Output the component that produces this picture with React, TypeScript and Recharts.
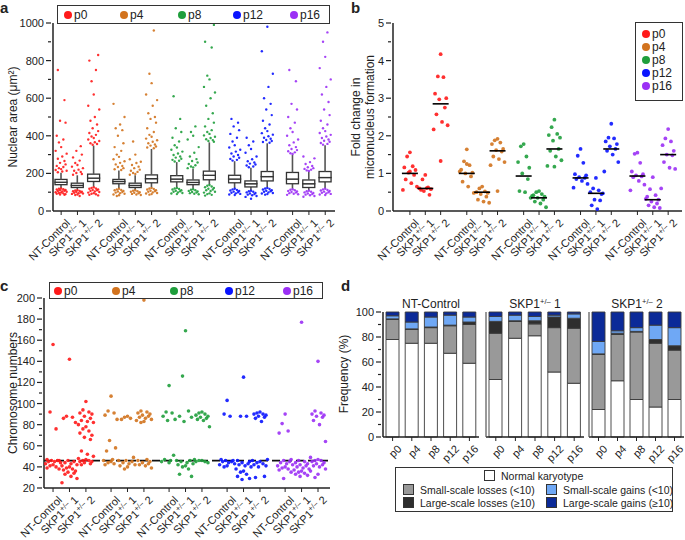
import React from "react";
import { ComposedChart, BarChart, Scatter, Bar, XAxis, YAxis, ReferenceLine } from "recharts";

const FONT = '"Liberation Sans", Arial, Helvetica, sans-serif';
const INK = "#222";

// shared
const passages = ["p0", "p4", "p8", "p12", "p16"];
const passageColors = ["#ff1a1a", "#d2731e", "#1f9e3c", "#0a14ff", "#9b30f5"];

// panel a: nuclear area, box stats per category (p0 NT, p0 S1, p0 S2, p4 NT, ...)
const areaTicks = [0, 100, 200, 300, 400, 500, 600, 700, 800, 900, 1000];
const areaMajors = [0, 200, 400, 600, 800, 1000];
const areaMedian = [153, 136, 175, 157, 136, 172, 170, 152, 190, 170, 145, 183, 170, 145, 178];
const areaQ1 = [140, 125, 157, 145, 125, 150, 155, 140, 166, 150, 128, 160, 145, 125, 155];
const areaQ3 = [168, 148, 196, 168, 148, 192, 188, 165, 212, 190, 160, 210, 205, 165, 210];
const areaLow = [122, 113, 128, 120, 112, 125, 125, 118, 140, 120, 110, 125, 118, 110, 120];
const areaHigh = [203, 190, 348, 215, 190, 330, 260, 225, 365, 265, 230, 360, 300, 210, 350];
const areaLowOut = [
  [120, 118, 116, 114, 112, 110, 108, 106, 104, 102, 100, 98, 96, 94, 92, 90, 88, 86],
  [111, 109, 107, 105, 103, 101, 99, 97, 95, 93, 91, 88, 85, 80],
  [126, 123, 120, 118, 115, 112, 110, 107, 104, 101, 98, 95, 92, 89, 86, 83],
  [118, 115, 112, 110, 107, 104, 101, 98, 95, 92, 88, 84, 80],
  [110, 108, 105, 102, 100, 97, 94, 91, 88, 85],
  [123, 120, 117, 114, 111, 108, 105, 102, 99, 96, 93, 90, 87],
  [123, 120, 117, 114, 111, 108, 105, 102, 99, 96, 93, 90],
  [116, 113, 110, 107, 104, 101, 98, 95, 92, 89],
  [138, 134, 130, 126, 122, 118, 114, 110, 106, 102, 98, 94, 90, 86, 82],
  [118, 115, 112, 109, 106, 103, 100, 97, 94, 91, 88, 85],
  [108, 105, 102, 99, 96, 93, 90, 87, 84, 80, 75, 65],
  [123, 120, 117, 114, 111, 108, 105, 102, 99, 96, 93, 90, 87],
  [116, 113, 110, 107, 104, 101, 98, 95, 92, 89, 86],
  [108, 105, 102, 99, 96, 93, 90, 87, 84, 80, 76],
  [118, 115, 112, 109, 106, 103, 100, 97, 94, 91, 88, 85],
];
const areaHighOut = [
  [206, 210, 214, 218, 223, 228, 234, 240, 248, 256, 266, 278, 290, 305, 320, 340, 365, 380, 400, 470, 480, 590, 750],
  [193, 197, 202, 208, 214, 220, 228, 236, 245, 255, 268, 285, 300, 320, 345],
  [352, 356, 360, 366, 372, 380, 388, 396, 405, 415, 425, 440, 460, 480, 500, 540, 560, 620, 690, 750, 800, 830],
  [218, 222, 228, 234, 240, 248, 256, 265, 275, 288, 300, 320, 340, 360, 400, 430, 440, 460, 500, 570],
  [193, 197, 202, 208, 214, 220, 228, 236, 245, 255, 262, 275, 300, 370],
  [334, 338, 343, 348, 354, 360, 368, 376, 385, 395, 405, 420, 440, 470, 490, 500, 520, 560, 590, 620, 680, 730, 960],
  [263, 267, 272, 278, 284, 290, 298, 306, 316, 326, 338, 350, 370, 390, 420, 440, 490, 610],
  [228, 232, 237, 243, 250, 258, 266, 276, 290, 310, 340, 380, 400, 420, 450],
  [368, 372, 377, 382, 388, 395, 402, 410, 420, 430, 450, 470, 490, 520, 560, 600, 630, 660, 700, 720, 870, 900, 990],
  [268, 272, 277, 283, 290, 298, 306, 316, 326, 338, 350, 370, 390, 410, 430, 450, 470, 490],
  [233, 237, 242, 247, 252, 258, 265, 275, 290, 310, 330, 350, 370, 390],
  [363, 367, 372, 378, 384, 390, 398, 406, 414, 425, 440, 460, 480, 510, 540, 570, 600, 660, 730, 850, 980],
  [303, 307, 312, 318, 324, 330, 340, 350, 365, 380, 400, 420, 440, 470, 500, 540, 570, 690, 750],
  [213, 216, 220, 224, 228, 233, 240, 250, 260, 280, 290],
  [353, 357, 362, 368, 374, 380, 388, 396, 405, 415, 425, 440, 460, 480, 510, 540, 580, 620, 660, 700, 760, 820, 900, 950],
];

// panel b: micronucleus fold change
const mnTicks = [0, 0.5, 1, 1.5, 2, 2.5, 3, 3.5, 4, 4.5, 5];
const mnMajors = [0, 1, 2, 3, 4, 5];
const mnValues = [
  [1.56, 1.45, 1.19, 1.16, 1.09, 1.02, 0.96, 0.84, 0.74, 0.65, 0.56, 1.05],
  [0.96, 0.84, 0.63, 0.6, 0.58, 0.53, 0.43, 0.56, 0.61],
  [4.17, 3.58, 3.56, 3.12, 3.0, 2.97, 2.75, 2.57, 2.37, 2.28, 2.17, 1.33],
  [1.64, 1.32, 1.22, 1.1, 1.02, 1.0, 0.92, 0.78, 0.65, 0.48, 1.05, 1.25],
  [0.65, 0.6, 0.52, 0.5, 0.48, 0.45, 0.38, 0.3, 0.25, 0.22],
  [1.92, 1.88, 1.82, 1.78, 1.65, 1.62, 1.58, 1.45, 1.38, 1.3, 1.22, 0.53],
  [1.78, 1.72, 1.45, 1.3, 1.15, 1.0, 0.85, 0.53, 0.5, 0.35],
  [0.53, 0.5, 0.45, 0.42, 0.38, 0.35, 0.3, 0.25, 0.2, 0.1, 0.4],
  [2.43, 2.23, 2.05, 2.02, 1.95, 1.87, 1.65, 1.6, 1.45, 1.35, 1.2, 1.18],
  [1.65, 1.47, 1.28, 0.98, 0.95, 0.9, 0.88, 0.85, 0.8, 0.72, 0.62],
  [0.88, 0.6, 0.55, 0.5, 0.45, 0.3, 0.28, 0.15, 0.05, 0.47],
  [2.32, 1.95, 1.93, 1.85, 1.78, 1.72, 1.65, 1.6, 1.5, 1.3, 1.05],
  [1.55, 1.52, 1.28, 1.05, 0.98, 0.95, 0.92, 0.9, 0.8, 0.7, 0.55],
  [0.9, 0.58, 0.42, 0.38, 0.3, 0.25, 0.2, 0.15, 0.1, 0.08, 0.32],
  [2.18, 1.93, 1.85, 1.75, 1.6, 1.5, 1.48, 1.3, 1.15, 1.12, 0.6],
];
const mnMedians = [1.0, 0.6, 2.85, 1.0, 0.5, 1.6, 0.93, 0.35, 1.65, 0.88, 0.47, 1.65, 0.93, 0.3, 1.5];

// panel c: chromosome numbers
const chrTicks = [20, 30, 40, 50, 60, 70, 80, 90, 100, 110, 120, 130, 140, 150, 160, 170, 180, 190, 200];
const chrMajors = [20, 40, 60, 80, 100, 120, 140, 160, 180, 200];
const diploid = 46;
const chrValues = [
  [156, 92, 76, 47, 46, 46, 46, 45, 45, 44, 43, 42, 41, 40, 39, 38],
  [142, 88, 87, 86, 82, 46, 45, 44, 43, 42, 41, 40, 39, 38, 37, 36, 35, 34, 33, 31, 29, 25],
  [102, 94, 92, 91, 90, 88, 86, 84, 83, 82, 80, 78, 76, 74, 72, 70, 68, 66, 55, 52, 50, 48, 47, 46, 46, 45, 45, 44, 43, 42],
  [107, 93, 91, 89, 85, 65, 58, 55, 47, 46, 46, 45, 44, 43, 42],
  [88, 87, 86, 85, 49, 46, 45, 44, 43, 42, 41, 40, 38],
  [198, 93, 92, 91, 90, 89, 88, 87, 86, 85, 84, 83, 82, 47, 46, 45, 44, 43, 42, 41, 39],
  [117, 92, 91, 88, 85, 84, 51, 47, 46, 46, 45, 44],
  [169, 126, 93, 88, 87, 83, 46, 45, 44, 43, 42, 41, 40, 38, 33, 31],
  [92, 91, 90, 89, 88, 87, 86, 85, 84, 78, 47, 46, 46, 45, 45, 44],
  [103, 90, 88, 47, 46, 46, 45, 45, 44, 43, 42, 41, 40],
  [125, 88, 88, 46, 45, 44, 43, 42, 41, 40, 38, 36, 35, 33, 31, 29, 28],
  [92, 91, 90, 90, 89, 88, 87, 86, 83, 47, 46, 45, 44, 43, 42, 41, 40, 31, 30],
  [90, 81, 74, 72, 47, 46, 45, 44, 43, 42, 41, 40, 39, 38, 37, 35, 29],
  [177, 46, 45, 44, 43, 42, 41, 40, 39, 38, 37, 36, 35, 34, 33, 32, 31],
  [140, 93, 91, 90, 89, 88, 87, 84, 80, 64, 49, 47, 46, 46, 45, 44, 43, 42, 41, 40, 38, 36, 33, 30],
];

// panel d: karyotype frequencies (%), per cell line, per passage
const dTicks = [0, 10, 20, 30, 40, 50, 60, 70, 80, 90, 100];
const dMajors = [0, 20, 40, 60, 80, 100];
const dLines = ["NT-Control", "SKP1+/– 1", "SKP1+/– 2"];
const normalK = [[78, 75, 75, 67, 59], [46, 79, 81, 52, 43], [22, 45, 30, 24, 30]];
const smallLoss = [[16, 11, 12.5, 22, 31], [37, 13.5, 9.5, 35.5, 44], [44, 37, 54, 51, 39.5]];
const largeLoss = [[0.5, 0.5, 0.5, 0.5, 2], [9.5, 0.5, 2.5, 8.5, 8], [0.5, 1, 0.5, 3, 3.5]];
const smallGain = [[2.5, 5.5, 8, 8, 4], [4, 4.5, 3.5, 1.5, 3.5], [10, 2, 3, 11.5, 14.5]];
const largeGain = [[3, 8, 4, 2.5, 4], [3.5, 2.5, 3.5, 2.5, 1.5], [23.5, 15, 12.5, 10.5, 12.5]];
const kSeries = [
  { key: "normal", name: "Normal karyotype", color: "#ffffff" },
  { key: "smallLoss", name: "Small-scale losses (<10)", color: "#999999" },
  { key: "largeLoss", name: "Large-scale losses (\u226510)", color: "#2e2e2e" },
  { key: "smallGain", name: "Small-scale gains (<10)", color: "#6fa8f5" },
  { key: "largeGain", name: "Large-scale gains (\u226510)", color: "#0b2a98" },
];

const catX = (k: number, gap: number) => Math.floor(k / 3) * gap + (k % 3);
const SPREAD = [0, -1, 1, -2, 2, -0.5, 1.5, -1.5, 0.5, 2.5, -2.5];

const jitterDot = (color: string, r: number, step: number) => (props: any) => {
  const { cx, cy, payload } = props;
  if (cx == null || cy == null) return <g />;
  const dx = SPREAD[payload.j % SPREAD.length] * step;
  return <circle cx={cx + dx} cy={cy} r={r} fill={color} fillOpacity={0.9} />;
};

const yTick = (majors: number[]) => (props: any) => {
  const { x, y, payload } = props;
  const major = majors.includes(payload.value);
  return (
    <g>
      <line x1={x - (major ? 5 : 3)} x2={x} y1={y} y2={y} stroke={INK} strokeWidth={1.2} />
      {major && (
        <text x={x - 7} y={y} dy={4} textAnchor="end" fontSize={11} fill={INK} fontFamily={FONT}>
          {payload.value}
        </text>
      )}
    </g>
  );
};

const LineLabel = ({ name }: { name: string }) => {
  if (!name.startsWith("SKP1")) return <>{name}</>;
  const n = name.slice(-1);
  return (
    <>
      SKP1
      <tspan dy={-4} fontSize={7.5}>+/–</tspan>
      <tspan dy={4}>{"\u00a0" + n}</tspan>
    </>
  );
};

const catTick = (names: string[]) => (props: any) => {
  const { x, y, index } = props;
  return (
    <g transform={`translate(${x + 4},${y + 1}) rotate(-45)`}>
      <text x={0} y={0} dy={8} textAnchor="end" fontSize={11} fill={INK} fontFamily={FONT}>
        <LineLabel name={names[index % names.length]} />
      </text>
    </g>
  );
};

const catNames = ["NT-Control", "SKP1+/– 1", "SKP1+/– 2"];

const Empty = () => <g />;
const Whisker = (p: any) => (
  <line x1={p.x + p.width / 2} x2={p.x + p.width / 2} y1={p.y} y2={p.y + p.height} stroke="#555" strokeWidth={1.6} />
);
const BoxPart = (p: any) => (
  <rect x={p.x} y={p.y} width={p.width} height={p.height} fill="#fff" stroke="#333" strokeWidth={1.3} />
);
const MedianLine = (p: any) =>
  p.cx == null ? <g /> : <line x1={p.cx - 8} x2={p.cx + 8} y1={p.cy} y2={p.cy} stroke="#000" strokeWidth={1.6} />;

const axisStyle = { stroke: INK, strokeWidth: 1.5 };

const Abs = ({ left, top, children, style }: any) => (
  <div style={{ position: "absolute", left, top, ...style }}>{children}</div>
);

const Letter = ({ left, top, c }: any) => (
  <Abs left={left} top={top} style={{ fontWeight: "bold", fontSize: 15, lineHeight: "15px" }}>{c}</Abs>
);

const VTitle = ({ cx, cy, children }: any) => (
  <div
    style={{
      position: "absolute",
      left: cx,
      top: cy,
      transform: "translate(-50%,-50%) rotate(-90deg)",
      whiteSpace: "nowrap",
      fontSize: 12,
      lineHeight: "14px",
      textAlign: "center",
    }}
  >
    {children}
  </div>
);

const Dot = ({ color }: any) => (
  <span style={{ display: "inline-block", width: 8, height: 8, borderRadius: 4, background: color, marginRight: 2 }} />
);

const HLegend = ({ left, top, width, height, starts }: any) => (
  <Abs left={left} top={top} style={{ width, height, border: "1px solid #333", boxSizing: "border-box", fontSize: 12 }}>
    {passages.map((p, g) => (
      <span
        key={p}
        style={{ position: "absolute", left: starts[g], top: 0, height: height - 2, display: "flex", alignItems: "center" }}
      >
        <Dot color={passageColors[g]} />
        {p}
      </span>
    ))}
  </Abs>
);

function PanelA() {
  const pos = areaMedian.map((_, k) => catX(k, 3.55));
  const rows = areaMedian.map((m, k) => ({
    x: pos[k],
    base: areaLow[k],
    wLow: areaQ1[k] - areaLow[k],
    boxLow: m - areaQ1[k],
    boxHigh: areaQ3[k] - m,
    wHigh: areaHigh[k] - areaQ3[k],
  }));
  const points = passages.map((_, g) => {
    const pts: any[] = [];
    for (let i = 0; i < 3; i++) {
      const k = g * 3 + i;
      [...areaLowOut[k], ...areaHighOut[k]].forEach((v, j) => pts.push({ x: pos[k], y: v, j }));
    }
    return pts;
  });
  return (
    <Abs left={0} top={0}>
      <ComposedChart width={340} height={270} data={rows} margin={{ top: 23, right: 5, bottom: 0, left: 0 }}>
        <XAxis
          type="number"
          dataKey="x"
          domain={[-0.5, 16.8]}
          allowDataOverflow
          ticks={pos}
          interval={0}
          height={59}
          tickSize={4}
          axisLine={axisStyle}
          tickLine={{ stroke: INK }}
          tick={catTick(catNames)}
        />
        <YAxis
          type="number"
          dataKey="y"
          domain={[0, 1000]}
          allowDataOverflow
          ticks={areaTicks}
          interval={0}
          width={53}
          tickSize={0}
          tickLine={false}
          axisLine={axisStyle}
          tick={yTick(areaMajors)}
        />
        {passages.map((p, g) => (
          <Scatter key={p} data={points[g]} isAnimationActive={false} shape={jitterDot(passageColors[g], 1.2, 2.2)} />
        ))}
        <Bar dataKey="base" stackId="box" barSize={12} shape={Empty} isAnimationActive={false} />
        <Bar dataKey="wLow" stackId="box" barSize={12} shape={Whisker} isAnimationActive={false} />
        <Bar dataKey="boxLow" stackId="box" barSize={12} shape={BoxPart} isAnimationActive={false} />
        <Bar dataKey="boxHigh" stackId="box" barSize={12} shape={BoxPart} isAnimationActive={false} />
        <Bar dataKey="wHigh" stackId="box" barSize={12} shape={Whisker} isAnimationActive={false} />
      </ComposedChart>
    </Abs>
  );
}

function PanelB() {
  const pos = mnMedians.map((_, k) => catX(k, 3.7));
  const points = passages.map((_, g) => {
    const pts: any[] = [];
    for (let i = 0; i < 3; i++) {
      const k = g * 3 + i;
      mnValues[k].forEach((v, j) => pts.push({ x: pos[k], y: v, j }));
    }
    return pts;
  });
  const medians = mnMedians.map((m, k) => ({ x: pos[k], y: m }));
  return (
    <Abs left={340} top={0}>
      <ComposedChart width={345} height={270} margin={{ top: 23, right: 3, bottom: 0, left: 0 }}>
        <XAxis
          type="number"
          dataKey="x"
          domain={[-1.1, 17.7]}
          allowDataOverflow
          ticks={pos}
          interval={0}
          height={59}
          tickSize={4}
          axisLine={axisStyle}
          tickLine={{ stroke: INK }}
          tick={catTick(catNames)}
        />
        <YAxis
          type="number"
          dataKey="y"
          domain={[0, 5]}
          allowDataOverflow
          ticks={mnTicks}
          interval={0}
          width={53}
          tickSize={0}
          tickLine={false}
          axisLine={axisStyle}
          tick={yTick(mnMajors)}
        />
        {passages.map((p, g) => (
          <Scatter key={p} data={points[g]} isAnimationActive={false} shape={jitterDot(passageColors[g], 1.9, 2.8)} />
        ))}
        <Scatter data={medians} isAnimationActive={false} shape={MedianLine} />
      </ComposedChart>
    </Abs>
  );
}

function PanelC() {
  const pos = chrValues.map((_, k) => catX(k, 3.53));
  const points = passages.map((_, g) => {
    const pts: any[] = [];
    for (let i = 0; i < 3; i++) {
      const k = g * 3 + i;
      chrValues[k].forEach((v, j) => pts.push({ x: pos[k], y: v, j }));
    }
    return pts;
  });
  return (
    <Abs left={0} top={270}>
      <ComposedChart width={340} height={270} margin={{ top: 28, right: 10, bottom: 0, left: 0 }}>
        <XAxis
          type="number"
          dataKey="x"
          domain={[-0.55, 16.85]}
          allowDataOverflow
          ticks={pos}
          interval={0}
          height={52}
          tickSize={4}
          axisLine={axisStyle}
          tickLine={{ stroke: INK }}
          tick={catTick(catNames)}
        />
        <YAxis
          type="number"
          dataKey="y"
          domain={[20, 200]}
          allowDataOverflow
          ticks={chrTicks}
          interval={0}
          width={44}
          tickSize={0}
          tickLine={false}
          axisLine={axisStyle}
          tick={yTick(chrMajors)}
        />
        {passages.map((p, g) => (
          <Scatter key={p} data={points[g]} isAnimationActive={false} shape={jitterDot(passageColors[g], 1.8, 3)} />
        ))}
        <ReferenceLine y={diploid} stroke="#111" strokeWidth={1.8} strokeDasharray="8 4" />
      </ComposedChart>
    </Abs>
  );
}

const passageTick = (props: any) => {
  const { x, y, payload } = props;
  return (
    <g transform={`translate(${x + 4},${y + 1}) rotate(-45)`}>
      <text x={0} y={0} dy={8} textAnchor="end" fontSize={11} fill={INK} fontFamily={FONT}>
        {payload.value}
      </text>
    </g>
  );
};

function KaryoPanel({ l, left, width, yWidth, showY }: any) {
  const rows = passages.map((p, i) => ({
    p,
    normal: normalK[l][i],
    smallLoss: smallLoss[l][i],
    largeLoss: largeLoss[l][i],
    smallGain: smallGain[l][i],
    largeGain: largeGain[l][i],
  }));
  return (
    <Abs left={left} top={300}>
      <BarChart width={width} height={165} data={rows} margin={{ top: 12, right: 1, bottom: 0, left: 0 }}>
        <XAxis
          dataKey="p"
          interval={0}
          height={28}
          tickSize={4}
          axisLine={axisStyle}
          tickLine={{ stroke: INK }}
          tick={passageTick}
        />
        {showY ? (
          <YAxis
            type="number"
            domain={[0, 100]}
            ticks={dTicks}
            interval={0}
            width={yWidth}
            tickSize={0}
            tickLine={false}
            axisLine={axisStyle}
            tick={yTick(dMajors)}
          />
        ) : (
          <YAxis type="number" domain={[0, 100]} width={yWidth} tick={false} tickLine={false} axisLine={{ stroke: "#555", strokeWidth: 1.2 }} />
        )}
        {kSeries.map((s) => (
          <Bar
            key={s.key}
            dataKey={s.key}
            stackId="k"
            barSize={13}
            fill={s.color}
            stroke="#3a3a3a"
            strokeWidth={0.9}
            isAnimationActive={false}
          />
        ))}
      </BarChart>
    </Abs>
  );
}

const Swatch = ({ color }: any) => (
  <span
    style={{
      display: "inline-block",
      width: 9,
      height: 9,
      background: color,
      border: "1px solid #333",
      marginRight: 6,
    }}
  />
);

function PanelD() {
  return (
    <>
      <KaryoPanel l={0} left={340} width={140} yWidth={43} showY />
      <KaryoPanel l={1} left={480} width={105} yWidth={6} />
      <KaryoPanel l={2} left={583} width={102} yWidth={6} />
      {dLines.map((name, l) => (
        <Abs key={name} left={[431, 535, 637][l]} top={296} style={{ transform: "translateX(-50%)", fontSize: 12, whiteSpace: "nowrap" }}>
          <svg width={70} height={16} style={{ display: "block", overflow: "visible" }}>
            <text x={35} y={12} textAnchor="middle" fontSize={12} fill={INK} fontFamily={FONT}>
              <LineLabel name={name} />
            </text>
          </svg>
        </Abs>
      ))}
      <Abs left={395} top={467} style={{ width: 278, height: 45, border: "1px solid #333", boxSizing: "border-box", fontSize: 10.5 }}>
        <span style={{ position: "absolute", left: 88, top: 1, display: "flex", alignItems: "center", height: 13 }}>
          <Swatch color={kSeries[0].color} />
          {kSeries[0].name}
        </span>
        {[1, 3, 2, 4].map((si, n) => (
          <span
            key={si}
            style={{
              position: "absolute",
              left: n % 2 === 0 ? 7 : 150,
              top: n < 2 ? 15 : 28,
              display: "flex",
              alignItems: "center",
              height: 13,
              whiteSpace: "nowrap",
            }}
          >
            <Swatch color={kSeries[si].color} />
            {kSeries[si].name}
          </span>
        ))}
      </Abs>
    </>
  );
}

export default function App() {
  return (
    <div
      style={{
        position: "absolute",
        left: 0,
        top: 0,
        width: 685,
        height: 540,
        background: "#fff",
        fontFamily: FONT,
        color: INK,
        overflow: "hidden",
      }}
    >
      <PanelA />
      <PanelB />
      <PanelC />
      <PanelD />

      <Letter left={0} top={0} c="a" />
      <Letter left={351} top={0} c="b" />
      <Letter left={0} top={278} c="c" />
      <Letter left={341} top={278} c="d" />

      <VTitle cx={13} cy={117}>Nuclear area (μm²)</VTitle>
      <VTitle cx={363} cy={117}>
        Fold change in
        <br />
        micronucleus formation
      </VTitle>
      <VTitle cx={13} cy={393}>Chromosome numbers</VTitle>
      <VTitle cx={344} cy={374}>Frequency (%)</VTitle>

      <HLegend left={57} top={5} width={273} height={19} starts={[6, 62, 120, 175, 232]} />
      <HLegend left={49} top={282} width={274} height={17} starts={[4, 62, 120, 175, 233]} />

      <Abs left={635} top={22} style={{ width: 48, height: 79, border: "1px solid #333", boxSizing: "border-box", fontSize: 12 }}>
        {passages.map((p, g) => (
          <span key={p} style={{ position: "absolute", left: 6, top: 4 + g * 13, display: "flex", alignItems: "center", height: 13 }}>
            <Dot color={passageColors[g]} />
            {p}
          </span>
        ))}
      </Abs>
    </div>
  );
}
